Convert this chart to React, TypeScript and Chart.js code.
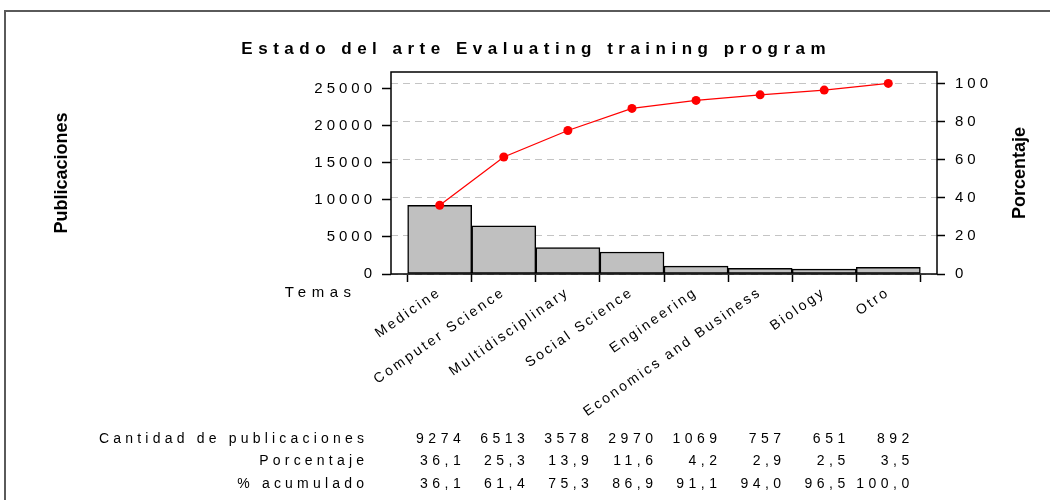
import React, { useEffect, useRef } from 'react';
import { Chart, registerables } from 'chart.js';

Chart.register(...registerables);

const title = 'Estado del arte Evaluating training program';
const categories = [
  'Medicine',
  'Computer Science',
  'Multidisciplinary',
  'Social Science',
  'Engineering',
  'Economics and Business',
  'Biology',
  'Otro',
];
const counts = [9274, 6513, 3578, 2970, 1069, 757, 651, 892];
const percentages = [36.1, 25.3, 13.9, 11.6, 4.2, 2.9, 2.5, 3.5];
const cumulative = [36.1, 61.4, 75.3, 86.9, 91.1, 94.0, 96.5, 100.0];
const leftTickValues = [0, 5000, 10000, 15000, 20000, 25000];
const rightTickValues = [0, 20, 40, 60, 80, 100];
const rowLabels = ['Cantidad de publicaciones', 'Porcentaje', '% acumulado'];
const xAxisName = 'Temas';
const leftAxisName = 'Publicaciones';
const rightAxisName = 'Porcentaje';

const FONT = '"Liberation Sans", Arial, Helvetica, sans-serif';
const fmt1 = (v: number) => v.toFixed(1).replace('.', ',');

function setLS(ctx: CanvasRenderingContext2D, v: string) {
  (ctx as any).letterSpacing = v;
}

export default function App() {
  const ref = useRef<HTMLCanvasElement>(null);

  useEffect(() => {
    if (!ref.current) return;
    const total = counts.reduce((a, b) => a + b, 0);
    const rightMax = 106;
    const leftMax = (total * rightMax) / 100;

    const extras = {
      id: 'paretoExtras',
      beforeDraw(chart: any) {
        setLS(chart.ctx, '4px');
      },
      afterDatasetsDraw(chart: any) {
        const { ctx, chartArea: a } = chart;
        ctx.save();
        ctx.setLineDash([]);
        ctx.strokeStyle = '#000';
        ctx.lineWidth = 1.5;
        ctx.strokeRect(a.left, a.top, a.right - a.left, a.bottom - a.top);
        ctx.restore();
        setLS(ctx, '2.6px');
      },
      afterDraw(chart: any) {
        const ctx: CanvasRenderingContext2D = chart.ctx;
        const a = chart.chartArea;
        const xs = chart.scales.x;
        ctx.save();
        // outer frame
        setLS(ctx, '0px');
        ctx.strokeStyle = '#5a5a5a';
        ctx.lineWidth = 2;
        ctx.strokeRect(5, 11, 1200, 700);

        ctx.fillStyle = '#000';
        // title
        setLS(ctx, '5.5px');
        ctx.font = `bold 17px ${FONT}`;
        ctx.textAlign = 'center';
        ctx.textBaseline = 'alphabetic';
        ctx.fillText(title, 533.5 + 2.75, 54);

        // axis names
        setLS(ctx, '0px');
        ctx.font = `bold 18px ${FONT}`;
        const midY = (a.top + a.bottom) / 2;
        ctx.save();
        ctx.translate(66.5, midY);
        ctx.rotate(-Math.PI / 2);
        ctx.textAlign = 'center';
        ctx.fillText(leftAxisName, 0, 0);
        ctx.restore();
        ctx.save();
        ctx.translate(1025, midY);
        ctx.rotate(-Math.PI / 2);
        ctx.textAlign = 'center';
        ctx.fillText(rightAxisName, 0, 0);
        ctx.restore();

        // Temas
        setLS(ctx, '5.5px');
        ctx.font = `15px ${FONT}`;
        ctx.textAlign = 'right';
        ctx.fillText(xAxisName, 351 + 5.5, 297);

        // table
        ctx.font = `14px ${FONT}`;
        const rows = [
          counts.map((v) => String(v)),
          percentages.map(fmt1),
          cumulative.map(fmt1),
        ];
        const baselines = [443, 464.5, 487.5];
        rows.forEach((row, r) => {
          setLS(ctx, '4.2px');
          ctx.fillText(rowLabels[r], 364 + 4.2, baselines[r]);
          setLS(ctx, '4.5px');
          row.forEach((txt, i) => {
            const right = xs.getPixelForValue(i) + 21;
            ctx.fillText(txt, right + 4.5, baselines[r]);
          });
        });
        ctx.restore();
        setLS(ctx, '0px');
      },
    };

    const chart = new Chart(ref.current, {
      type: 'bar',
      data: {
        datasets: [
          {
            type: 'line',
            data: cumulative.map((v, i) => ({ x: i, y: v })),
            yAxisID: 'y1',
            xAxisID: 'x',
            borderColor: '#ff0000',
            borderWidth: 1.3,
            pointRadius: 4.5,
            pointBackgroundColor: '#ff0000',
            pointBorderWidth: 0,
            tension: 0,
            order: 0,
          } as any,
          {
            type: 'bar',
            data: counts.map((v, i) => ({ x: i, y: v })),
            yAxisID: 'y',
            xAxisID: 'x',
            backgroundColor: '#c0c0c0',
            borderColor: '#000',
            borderWidth: 1.5,
            borderSkipped: false,
            barPercentage: 1,
            categoryPercentage: 1,
            order: 1,
          } as any,
        ],
      },
      options: {
        responsive: false,
        animation: false,
        devicePixelRatio: 1,
        layout: { padding: { top: 72, left: 0, right: 0, bottom: 0 } },
        plugins: {
          legend: { display: false },
          tooltip: { enabled: false },
          title: { display: false },
        },
        scales: {
          x: {
            type: 'linear',
            position: 'bottom',
            min: -0.76,
            max: 7.76,
            offset: false,
            afterBuildTicks: (s: any) => {
              s.ticks = categories.map((_, i) => ({ value: i }));
            },
            afterFit: (s: any) => {
              s.height = 500 - 274;
            },
            grid: {
              drawOnChartArea: false,
              drawTicks: true,
              tickLength: 8,
              tickColor: '#000',
              tickWidth: 1.5,
            },
            border: { display: false },
            ticks: {
              z: 1,
              autoSkip: false,
              maxRotation: 35,
              minRotation: 35,
              padding: 2,
              color: '#000',
              font: { family: FONT, size: 14 },
              callback: (v: any) => categories[Math.round(Number(v))] ?? '',
            },
          },
          y: {
            type: 'linear',
            position: 'left',
            min: 0,
            max: leftMax,
            afterBuildTicks: (s: any) => {
              s.ticks = leftTickValues.map((v) => ({ value: v }));
            },
            afterFit: (s: any) => {
              s.width = 391;
            },
            grid: {
              drawOnChartArea: false,
              drawTicks: true,
              tickLength: 9,
              tickColor: '#000',
              tickWidth: 1.5,
            },
            border: { display: false },
            ticks: {
              padding: 6,
              color: '#000',
              font: { family: FONT, size: 15 },
              callback: (v: any) => String(v),
            },
          },
          y1: {
            type: 'linear',
            position: 'right',
            min: 0,
            max: rightMax,
            afterBuildTicks: (s: any) => {
              s.ticks = rightTickValues.map((v) => ({ value: v }));
            },
            afterFit: (s: any) => {
              s.width = 1050 - 937;
            },
            grid: {
              drawOnChartArea: true,
              drawTicks: true,
              color: '#c4c4c4',
              lineWidth: 1,
              tickLength: 8,
              tickColor: '#000',
              tickWidth: 1.5,
            },
            border: { display: false, dash: [7, 5] },
            ticks: {
              padding: 10,
              color: '#000',
              font: { family: FONT, size: 15 },
              callback: (v: any) => String(v),
            },
          },
        },
      } as any,
      plugins: [extras],
    });

    return () => chart.destroy();
  }, []);

  return (
    <div style={{ position: 'absolute', left: 0, top: 0, width: 1050, height: 500 }}>
      <canvas ref={ref} width={1050} height={500} style={{ display: 'block' }} />
    </div>
  );
}
